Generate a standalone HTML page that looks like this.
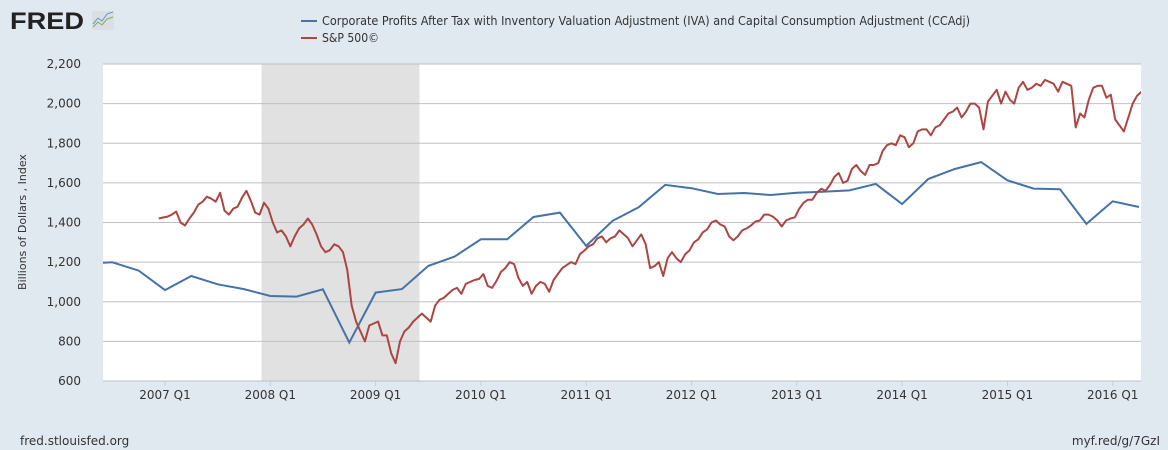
<!DOCTYPE html>
<html><head><meta charset="utf-8"><style>
body{margin:0;width:1168px;height:450px;background:#e1e9f0;font-family:"DejaVu Sans","Liberation Sans",sans-serif;overflow:hidden}
svg{display:block}
</style></head><body>
<svg id="chart" width="1168" height="450">
<text x="10" y="29" font-size="24" font-weight="bold" fill="#222" textLength="74" lengthAdjust="spacingAndGlyphs" font-family="Liberation Sans">FRED</text>
<g><rect x="92" y="11" width="22" height="19" fill="#d9dfe4" rx="2"/><polyline points="93,24 98,18 102,21 107,14 113,12" fill="none" stroke="#6b96c0" stroke-width="1"/><polyline points="93,27 98,22 102,25 107,19 113,17" fill="none" stroke="#7fae4f" stroke-width="1"/></g>
<g>
<line x1="301" y1="21" x2="317" y2="21" stroke="#4572a7" stroke-width="2"/>
<text x="322" y="25" font-size="12" fill="#333" textLength="648" lengthAdjust="spacingAndGlyphs">Corporate Profits After Tax with Inventory Valuation Adjustment (IVA) and Capital Consumption Adjustment (CCAdj)</text>
<line x1="301" y1="38" x2="317" y2="38" stroke="#aa4643" stroke-width="2"/>
<text x="322" y="42" font-size="12" fill="#333" textLength="57" lengthAdjust="spacingAndGlyphs">S&amp;P 500©</text>
</g>
<rect x="103" y="64" width="1038" height="317" fill="#fff"/>
<g id="rec"></g><g id="grid"></g><g id="xt"></g>
<text transform="translate(26,222) rotate(-90)" text-anchor="middle" font-size="11" fill="#333">Billions of Dollars , Index</text>
<defs><clipPath id="clip"><rect x="103" y="64" width="1038" height="317"/></clipPath></defs>
<g id="series" clip-path="url(#clip)"></g>
<text x="20" y="445" font-size="12" fill="#333">fred.stlouisfed.org</text>
<text x="1160" y="445" text-anchor="end" font-size="12" fill="#333">myf.red/g/7GzI</text>
</svg>
<script>
const yTicks=[600,800,1000,1200,1400,1600,1800,2000,2200];
const xTickYears=[2007,2008,2009,2010,2011,2012,2013,2014,2015,2016];
const recession=[2007.917,2009.417];
const profitStart=2006.25;
const profits=[1192,1199,1157,1059,1130,1088,1064,1029,1026,1063,794,1046,1064,1181,1228,1315,1315,1428,1450,1282,1408,1477,1590,1573,1544,1549,1539,1550,1555,1562,1595,1493,1620,1670,1705,1613,1571,1568,1393,1507,1478];
const spStart=2006.94;
const sp=[1420,1425,1430,1440,1455,1400,1385,1420,1450,1490,1505,1530,1520,1505,1550,1460,1440,1470,1480,1525,1560,1510,1450,1440,1500,1470,
1400,1350,1360,1330,1280,1330,1370,1390,1420,1390,1340,1280,1250,1260,1290,1280,1250,1160,980,900,850,800,880,890,
900,830,830,740,690,800,850,870,900,920,940,920,900,980,1010,1020,1040,1060,1070,1040,1090,1100,1110,1115,
1140,1080,1070,1105,1150,1170,1200,1190,1120,1080,1100,1040,1080,1100,1090,1050,1110,1140,1170,1185,1200,1190,1240,1258,
1280,1290,1320,1330,1300,1320,1330,1360,1340,1320,1280,1310,1340,1290,1170,1180,1200,1130,1220,1250,1220,1200,1240,1260,
1300,1315,1350,1365,1400,1410,1390,1380,1330,1310,1330,1360,1370,1385,1405,1410,1440,1440,1430,1410,1380,1410,1420,1426,
1470,1500,1515,1515,1550,1570,1560,1590,1630,1650,1600,1610,1670,1690,1660,1640,1690,1690,1700,1760,1790,1800,1790,1840,
1830,1780,1800,1860,1870,1870,1840,1880,1890,1920,1950,1960,1980,1930,1960,2000,2000,1980,1870,2010,2040,2070,2000,2060,
2020,2000,2080,2110,2070,2080,2100,2090,2120,2110,2100,2060,2110,2100,2090,1880,1950,1930,2020,2080,2090,2090,2030,2045,
1920,1890,1860,1930,2000,2040,2060];
const X=t=>165+(t-2007)*105.3;
const Y=v=>381-(v-600)/1600*317;
const NS='http://www.w3.org/2000/svg';
function mk(tag,attrs,parent,txt){const e=document.createElementNS(NS,tag);for(const k in attrs)e.setAttribute(k,attrs[k]);if(txt!==undefined)e.textContent=txt;document.getElementById(parent).appendChild(e);return e;}
let r=mk('rect',{x:X(recession[0]),y:64,width:X(recession[1])-X(recession[0]),height:317,fill:'#e1e1e1'},'rec');


yTicks.forEach(v=>{
 let l=mk('line',{x1:103,x2:1141,y1:Y(v),y2:Y(v),stroke:'#c0c0c0','stroke-width':1},'grid');
 
 
 let t=mk('text',{x:81,y:Y(v)+4,'text-anchor':'end','font-size':12,fill:'#333'},'grid',v.toLocaleString('en-US'));
 
 
});
xTickYears.forEach(y=>{
 let t=mk('text',{x:X(y),y:399,'text-anchor':'middle','font-size':12,fill:'#333'},'xt',y+' Q1');
 
 
 let k=mk('line',{x1:X(y),x2:X(y),y1:381,y2:386,stroke:'#c0d0e0'},'xt');
 
 
});
let p1=profits.map((v,i)=>X(profitStart+i/4).toFixed(1)+','+Y(v).toFixed(1)).join(' ');
let l1=mk('polyline',{points:p1,fill:'none',stroke:'#4572a7','stroke-width':2},'series');


let p2=sp.map((v,i)=>X(spStart+i/24).toFixed(1)+','+Y(v).toFixed(1)).join(' ');
let l2=mk('polyline',{points:p2,fill:'none',stroke:'#aa4643','stroke-width':2,'stroke-linejoin':'round'},'series');


</script>
</body></html>
